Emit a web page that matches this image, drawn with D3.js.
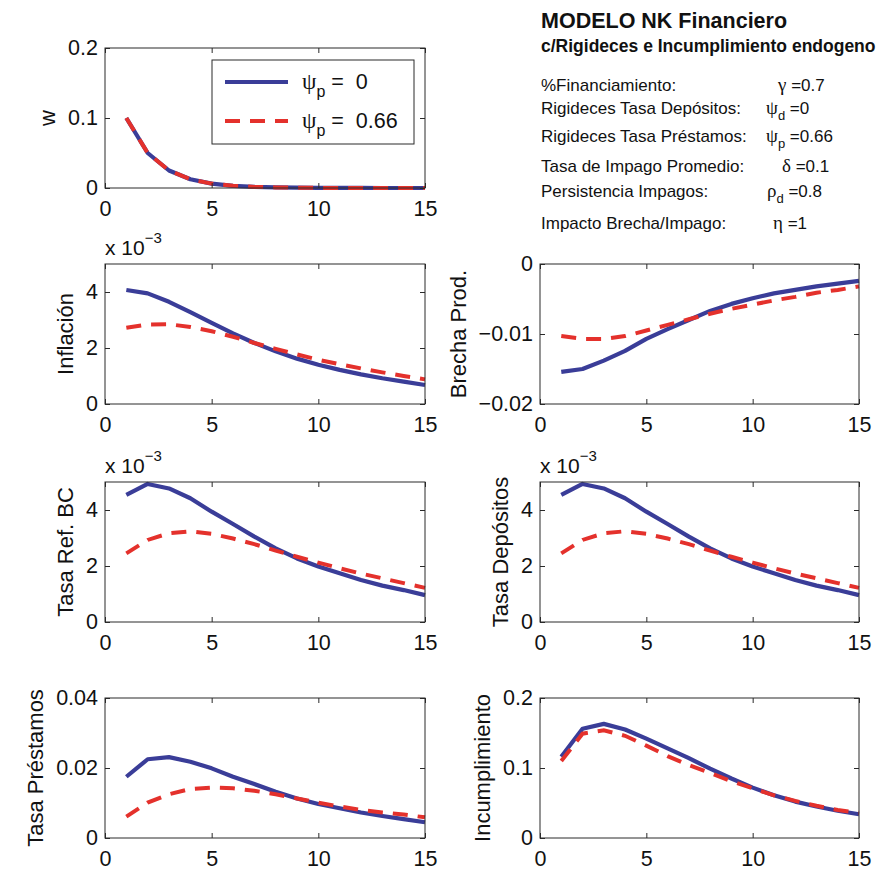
<!DOCTYPE html>
<html>
<head>
<meta charset="utf-8">
<script src="https://cdn.jsdelivr.net/npm/d3@7"></script>
<style>
  body { margin: 0; background: #fff; }
  text { font-family: "Liberation Sans", Arial, sans-serif; fill: #111; }
</style>
</head>
<body>
<svg id="chart" width="878" height="870"></svg>
<script>
// periods on the x axis
const periods = [1, 2, 3, 4, 5, 6, 7, 8, 9, 10, 11, 12, 13, 14, 15];
const xTicks = [0, 5, 10, 15];

// psi_p = 0 (solid blue) and psi_p = 0.66 (dashed red)
const wSinRig = [0.1, 0.05, 0.025, 0.0125, 0.0063, 0.0031, 0.0016, 0.0008, 0.0004, 0.0002, 0.0001, 0.00005, 0.00003, 0.00001, 0.00001];
const wConRig = [0.1, 0.05, 0.025, 0.0125, 0.0063, 0.0031, 0.0016, 0.0008, 0.0004, 0.0002, 0.0001, 0.00005, 0.00003, 0.00001, 0.00001];

const inflSinRig = [0.00407, 0.00395, 0.00365, 0.00328, 0.0029, 0.00252, 0.00218, 0.00188, 0.00162, 0.0014, 0.00122, 0.00106, 0.00092, 0.0008, 0.00068];
const inflConRig = [0.00272, 0.00284, 0.00285, 0.00275, 0.0026, 0.0024, 0.00218, 0.00197, 0.00177, 0.00158, 0.00142, 0.00127, 0.00113, 0.001, 0.00088];

const brechaSinRig = [-0.0154, -0.015, -0.0138, -0.0124, -0.0107, -0.0093, -0.008, -0.0067, -0.0057, -0.0049, -0.0042, -0.0037, -0.0032, -0.0028, -0.0024];
const brechaConRig = [-0.0103, -0.0107, -0.0107, -0.0103, -0.0095, -0.0087, -0.0079, -0.0071, -0.0064, -0.0058, -0.0052, -0.0047, -0.0041, -0.0037, -0.0032];

const tasaBCSinRig = [0.00454, 0.00493, 0.00477, 0.00442, 0.00394, 0.0035, 0.00305, 0.00263, 0.00227, 0.00198, 0.00174, 0.0015, 0.0013, 0.00114, 0.00096];
const tasaBCConRig = [0.00245, 0.00293, 0.00317, 0.00324, 0.00315, 0.00298, 0.00278, 0.00255, 0.00233, 0.00212, 0.00192, 0.00173, 0.00156, 0.00139, 0.00122];

const tasaDepSinRig = [0.00454, 0.00493, 0.00477, 0.00442, 0.00394, 0.0035, 0.00305, 0.00263, 0.00227, 0.00198, 0.00174, 0.0015, 0.0013, 0.00114, 0.00096];
const tasaDepConRig = [0.00245, 0.00293, 0.00317, 0.00324, 0.00315, 0.00298, 0.00278, 0.00255, 0.00233, 0.00212, 0.00192, 0.00173, 0.00156, 0.00139, 0.00122];

const tasaPresSinRig = [0.0175, 0.0225, 0.0231, 0.0218, 0.0199, 0.0175, 0.0154, 0.0132, 0.0113, 0.0097, 0.0085, 0.0073, 0.0063, 0.0054, 0.0045];
const tasaPresConRig = [0.0061, 0.0101, 0.0125, 0.014, 0.0144, 0.0142, 0.0135, 0.0125, 0.0113, 0.0101, 0.009, 0.008, 0.0073, 0.0067, 0.0059];

const incumpSinRig = [0.116, 0.156, 0.163, 0.155, 0.142, 0.128, 0.114, 0.099, 0.085, 0.072, 0.061, 0.052, 0.045, 0.039, 0.034];
const incumpConRig = [0.11, 0.149, 0.154, 0.146, 0.132, 0.117, 0.104, 0.093, 0.081, 0.071, 0.061, 0.053, 0.046, 0.04, 0.036];

const legendValues = ["0", "0.66"];

// parameter box
const paramLabels = ["%Financiamiento:", "Rigideces Tasa Depósitos:", "Rigideces Tasa Préstamos:",
  "Tasa de Impago Promedio:", "Persistencia Impagos:", "Impacto Brecha/Impago:"];
const paramSymbols = ["γ", "ψ", "ψ", "δ", "ρ", "η"];
const paramSubs = ["", "d", "p", "", "d", ""];
const paramValues = ["0.7", "0", "0.66", "0.1", "0.8", "1"];

const colors = { base: "#3a3d98", rig: "#e4312c", axis: "#2a2a2a" };

const panels = [
  { label: "w", sin: wSinRig, con: wConRig, domain: [0, 0.2], ticks: [0, 0.1, 0.2], exp: false },
  { label: "Inflación", sin: inflSinRig, con: inflConRig, domain: [0, 0.005], ticks: [0, 0.002, 0.004], exp: true },
  { label: "Brecha Prod.", sin: brechaSinRig, con: brechaConRig, domain: [-0.02, 0], ticks: [-0.02, -0.01, 0], exp: false },
  { label: "Tasa Ref. BC", sin: tasaBCSinRig, con: tasaBCConRig, domain: [0, 0.005], ticks: [0, 0.002, 0.004], exp: true },
  { label: "Tasa Depósitos", sin: tasaDepSinRig, con: tasaDepConRig, domain: [0, 0.005], ticks: [0, 0.002, 0.004], exp: true },
  { label: "Tasa Préstamos", sin: tasaPresSinRig, con: tasaPresConRig, domain: [0, 0.04], ticks: [0, 0.02, 0.04], exp: false },
  { label: "Incumplimiento", sin: incumpSinRig, con: incumpConRig, domain: [0, 0.2], ticks: [0, 0.1, 0.2], exp: false }
];

// where each axes box sits on the page (left, top) and where its ylabel goes
const layout = [
  { x: 105, y: 48, w: 320, lab: -58 },
  { x: 105, y: 264, w: 320, lab: -40 },
  { x: 540, y: 264, w: 319, lab: -82 },
  { x: 105, y: 482, w: 320, lab: -40 },
  { x: 540, y: 482, w: 319, lab: -40 },
  { x: 105, y: 698, w: 320, lab: -70 },
  { x: 540, y: 698, w: 319, lab: -58 }
];
const panelHeight = 140;
const tickLen = 5;

const svg = d3.select("#chart");

const fmtTick = (p) => (d) => {
  const v = p.exp ? Math.round(d / 0.001) : +d.toFixed(4);
  return String(v).replace("-", "\u2212");
};

panels.forEach((p, i) => {
  const L = layout[i];
  const g = svg.append("g").attr("transform", `translate(${L.x},${L.y})`);

  const x = d3.scaleLinear().domain([0, 15]).range([0, L.w]);
  const y = d3.scaleLinear().domain(p.domain).range([panelHeight, 0]);

  // series
  const line = d3.line().x((d, j) => x(periods[j])).y(d => y(d));
  g.append("path")
    .datum(p.sin)
    .attr("d", line)
    .attr("fill", "none")
    .attr("stroke", colors.base)
    .attr("stroke-width", 4.2)
    .attr("stroke-linejoin", "round");
  g.append("path")
    .datum(p.con)
    .attr("d", line)
    .attr("fill", "none")
    .attr("stroke", colors.rig)
    .attr("stroke-width", 4)
    .attr("stroke-dasharray", "15,10");

  // box
  g.append("rect")
    .attr("width", L.w)
    .attr("height", panelHeight)
    .attr("fill", "none")
    .attr("stroke", colors.axis)
    .attr("stroke-width", 1);

  // axes, ticks pointing inward on all four sides
  const bottom = g.append("g")
    .attr("transform", `translate(0,${panelHeight})`)
    .call(d3.axisBottom(x).tickValues(xTicks).tickSize(-tickLen).tickPadding(13).tickFormat(d => d));
  const top = g.append("g")
    .call(d3.axisTop(x).tickValues(xTicks).tickSize(-tickLen).tickFormat(""));
  const left = g.append("g")
    .call(d3.axisLeft(y).tickValues(p.ticks).tickSize(-tickLen).tickPadding(7).tickFormat(fmtTick(p)));
  const right = g.append("g")
    .attr("transform", `translate(${L.w},0)`)
    .call(d3.axisRight(y).tickValues(p.ticks).tickSize(-tickLen).tickFormat(""));

  [bottom, top, left, right].forEach(a => {
    a.select(".domain").remove();
    a.selectAll("line").attr("stroke", colors.axis);
    a.selectAll("text")
      .style("font-family", '"Liberation Sans", Arial, sans-serif')
      .style("font-size", "21.5px")
      .attr("fill", "#111");
  });

  // y label
  g.append("text")
    .attr("transform", `translate(${L.lab},${panelHeight / 2}) rotate(-90)`)
    .attr("text-anchor", "middle")
    .attr("dy", "0.35em")
    .style("font-size", "22px")
    .text(p.label);

  // x 10^-3 multiplier
  if (p.exp) {
    const t = g.append("text")
      .attr("x", 0)
      .attr("y", -9)
      .style("font-size", "21px");
    t.append("tspan").text("x 10");
    t.append("tspan")
      .attr("dy", -12)
      .style("font-size", "15px")
      .text("\u22123");
  }
});

// legend inside the first panel
const legend = svg.append("g").attr("transform", "translate(212,60)");
legend.append("rect")
  .attr("width", 202)
  .attr("height", 84)
  .attr("fill", "#fff")
  .attr("stroke", colors.axis)
  .attr("stroke-width", 1);

legendValues.forEach((v, i) => {
  const ly = 22 + i * 39;
  legend.append("line")
    .attr("x1", 13).attr("x2", 76)
    .attr("y1", ly).attr("y2", ly)
    .attr("stroke", i === 0 ? colors.base : colors.rig)
    .attr("stroke-width", i === 0 ? 4.2 : 4)
    .attr("stroke-dasharray", i === 0 ? null : "15,10");
  const t = legend.append("text")
    .attr("x", 90)
    .attr("y", ly + 7)
    .style("font-size", "21.5px");
  t.append("tspan").style("font-family", '"Liberation Serif", serif').style("font-size", "23px").text("ψ");
  t.append("tspan").attr("dy", 8).style("font-size", "16px").text("p");
  t.append("tspan").attr("dy", -8).attr("xml:space", "preserve").text(" =  " + v);
});

// title block on the right
const info = svg.append("g");
info.append("text")
  .attr("x", 541).attr("y", 28)
  .style("font-size", "21.5px")
  .style("font-weight", "bold")
  .text("MODELO NK Financiero");
info.append("text")
  .attr("x", 541).attr("y", 52)
  .style("font-size", "17.5px")
  .style("font-weight", "bold")
  .text("c/Rigideces e Incumplimiento endogeno");

const paramY = [91, 114, 142, 172, 197, 229];
const paramX = [778, 766, 766, 782, 767, 773];
paramLabels.forEach((lab, i) => {
  info.append("text")
    .attr("x", 541).attr("y", paramY[i])
    .style("font-size", "17px")
    .text(lab);
  const t = info.append("text")
    .attr("x", paramX[i]).attr("y", paramY[i])
    .style("font-size", "17px");
  t.append("tspan").style("font-family", '"Liberation Serif", serif').style("font-size", "19px").text(paramSymbols[i]);
  if (paramSubs[i]) {
    t.append("tspan").attr("dy", 6).style("font-size", "13px").text(paramSubs[i]);
    t.append("tspan").attr("dy", -6).text(" =" + paramValues[i]);
  } else {
    t.append("tspan").text(" =" + paramValues[i]);
  }
});
</script>
</body>
</html>
